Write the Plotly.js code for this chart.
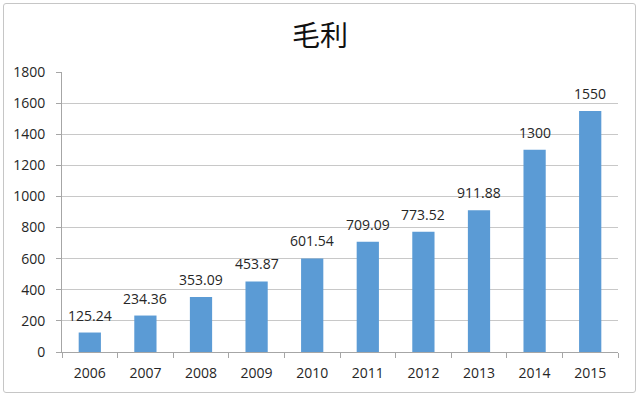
<!DOCTYPE html>
<html>
<head>
<meta charset="utf-8">
<script src="https://cdn.plot.ly/plotly-3.0.1.min.js"></script>
<style>
html,body{margin:0;padding:0;background:#fff;}
#wrap{position:relative;width:640px;height:396px;}
#chart{width:640px;height:396px;}
#frame{position:absolute;left:3px;top:3px;width:631px;height:388px;border:1px solid #c6c6c6;border-radius:3px;pointer-events:none;}
</style>
</head>
<body>
<div id="wrap"><div id="chart"></div><div id="frame"></div></div>
<script>
var years = ['2006','2007','2008','2009','2010','2011','2012','2013','2014','2015'];
var grossProfit = [125.24, 234.36, 353.09, 453.87, 601.54, 709.09, 773.52, 911.88, 1300, 1550];
var valueLabels = ['125.24','234.36','353.09','453.87','601.54','709.09','773.52','911.88','1300','1550'];
var yTicks = [0,200,400,600,800,1000,1200,1400,1600,1800];
var chartTitle = '毛利';

var numFont = '"Open Sans", "Noto Sans", "Noto Sans CJK SC", sans-serif';

var trace = {
  type: 'bar',
  x: years,
  y: grossProfit,
  marker: {color: '#5b9bd5'},
  hoverinfo: 'none'
};

var annotations = years.map(function(yr, i){
  return {
    x: i, y: grossProfit[i], xref: 'x', yref: 'y',
    text: valueLabels[i], showarrow: false,
    yanchor: 'bottom', yshift: 6,
    font: {family: numFont, size: 14, color: '#262626'}
  };
});

var layout = {
  width: 640, height: 396,
  margin: {l: 62, r: 22, t: 72, b: 44},
  paper_bgcolor: '#ffffff',
  plot_bgcolor: '#ffffff',
  bargap: 0.6,
  showlegend: false,
  title: {
    text: chartTitle,
    x: 0.5, xanchor: 'center',
    y: 0.908, yanchor: 'middle',
    font: {family: '"Noto Sans CJK SC", sans-serif', size: 28, color: '#111111'}
  },
  xaxis: {
    type: 'category',
    range: [-0.5, years.length - 0.5],
    showline: true, linecolor: '#a6a6a6', linewidth: 1,
    ticks: 'outside', tickson: 'boundaries', ticklen: 5, tickcolor: '#a6a6a6',
    showgrid: false,
    tickangle: 0,
    tickfont: {family: numFont, size: 14, color: '#262626'},
    ticklabelstandoff: 8,
    fixedrange: true
  },
  yaxis: {
    range: [0, 1800],
    tickvals: yTicks,
    ticktext: yTicks.map(String),
    showline: true, linecolor: '#a6a6a6', linewidth: 1,
    ticks: 'outside', ticklen: 5, tickcolor: '#a6a6a6',
    showgrid: true, gridcolor: '#c8c8c8', gridwidth: 1,
    zeroline: false,
    tickfont: {family: numFont, size: 14, color: '#262626'},
    ticklabelstandoff: 8,
    fixedrange: true
  },
  annotations: annotations
};

Plotly.newPlot('chart', [trace], layout, {displayModeBar: false, staticPlot: true});
</script>
</body>
</html>
